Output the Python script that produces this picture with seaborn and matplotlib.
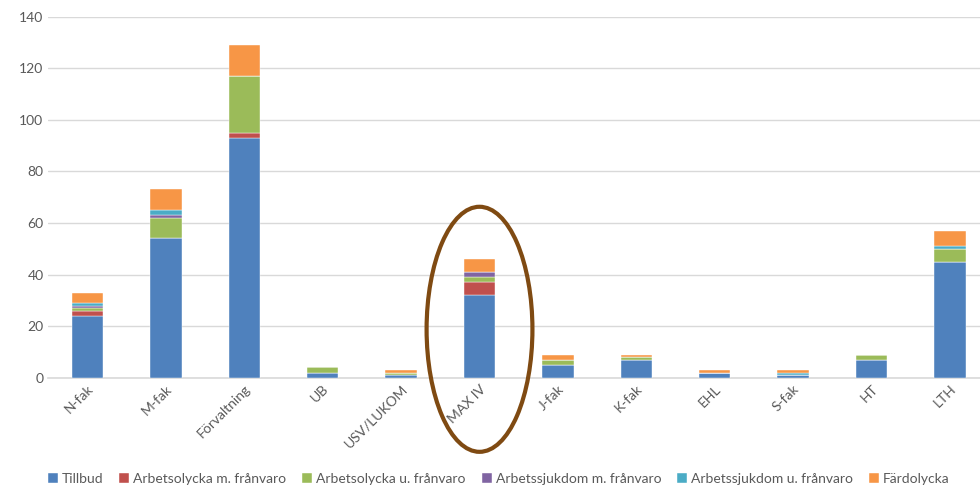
import numpy as np
import pandas as pd
import matplotlib.pyplot as plt
import seaborn as sns
from matplotlib.patches import Ellipse

sns.set_style("white")
plt.rcParams["font.family"] = ["Lato", "DejaVu Sans"]

units = ["N-fak", "M-fak", "Förvaltning", "UB", "USV/LUKOM", "MAX IV",
         "J-fak", "K-fak", "EHL", "S-fak", "HT", "LTH"]
tillbud = [24, 54, 93, 2, 1, 32, 5, 7, 2, 1, 7, 45]
olycka_med = [2, 0, 2, 0, 0, 5, 0, 0, 0, 0, 0, 0]
olycka_utan = [1, 8, 22, 2, 1, 2, 2, 1, 0, 0, 2, 5]
sjukdom_med = [1, 1, 0, 0, 0, 2, 0, 0, 0, 0, 0, 0]
sjukdom_utan = [1, 2, 0, 0, 0, 0, 0, 0, 0, 1, 0, 1]
fardolycka = [4, 8, 12, 0, 1, 5, 2, 1, 1, 1, 0, 6]

series = {
    "Tillbud": tillbud,
    "Arbetsolycka m. frånvaro": olycka_med,
    "Arbetsolycka u. frånvaro": olycka_utan,
    "Arbetssjukdom m. frånvaro": sjukdom_med,
    "Arbetssjukdom u. frånvaro": sjukdom_utan,
    "Färdolycka": fardolycka,
}
colors = ["#4F81BD", "#C0504D", "#9BBB59", "#8064A2", "#4BACC6", "#F79646"]
df = pd.DataFrame(series, index=units)

fig = plt.figure(figsize=(9.8, 4.9), dpi=100)
# plot area runs a little past the right edge, as in the original
ax = fig.add_axes([0.0493, 0.229, 0.96, 0.737])

x = np.arange(len(units))
bottom = np.zeros(len(units))
for col, c in zip(df.columns, colors):
    ax.bar(x, df[col], 0.4, bottom=bottom, color=c, label=col,
           edgecolor="white", linewidth=0.3, zorder=3)
    bottom += df[col].values

ax.set_xlim(-0.5, 11.5)
ax.set_ylim(0, 140)
ax.set_yticks(range(0, 141, 20))
ax.yaxis.grid(True, color="#D9D9D9", linewidth=1, zorder=0)
for s in ["top", "right", "left"]:
    ax.spines[s].set_visible(False)
ax.spines["bottom"].set_color("#D9D9D9")
ax.spines["bottom"].set_linewidth(1.2)
ax.tick_params(axis="both", length=0, colors="#595959", labelsize=10)
ax.set_xticks(x)
ax.set_xticklabels(units, rotation=45, ha="right", rotation_mode="anchor")

# ring around MAX IV
i = units.index("MAX IV")
ax.add_patch(Ellipse((i, 18.8), 1.35, 95, fill=False, edgecolor="#7F4A12",
                     linewidth=3, clip_on=False, zorder=5))

ax.legend(loc="center", bbox_to_anchor=(0.509, 0.022), bbox_transform=fig.transFigure,
          ncol=6, frameon=False, fontsize=10, handlelength=0.7, handleheight=0.7,
          handletextpad=0.3, columnspacing=1.15, labelcolor="#595959")

fig.savefig("out.png", dpi=100)
